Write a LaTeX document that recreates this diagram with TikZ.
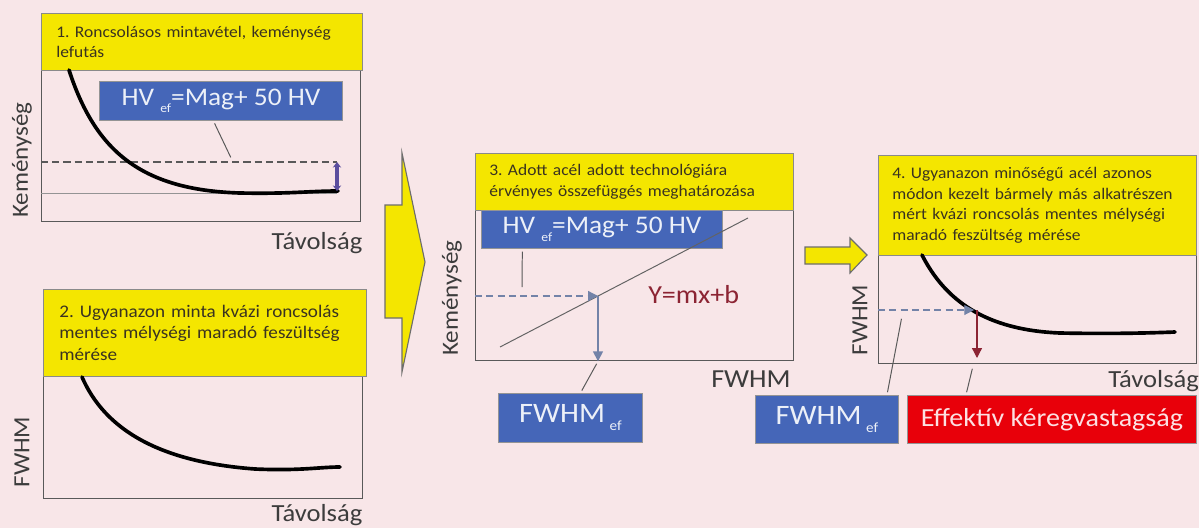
\documentclass[tikz,border=0pt]{standalone}
\usepackage{fontspec}
\setmainfont{Carlito}[FakeStretch=1.08]
\usetikzlibrary{arrows.meta,positioning}
\definecolor{slidebg}{HTML}{F8E6E8}
\definecolor{slideyellow}{HTML}{F4E600}
\definecolor{slideblue}{HTML}{4566B8}
\definecolor{slidered}{HTML}{E8000A}
\definecolor{slideink}{HTML}{3C3C3C}
\definecolor{slidetext}{HTML}{3A3320}
\definecolor{slidewine}{HTML}{8C2433}
\definecolor{slidesteel}{HTML}{7383A8}
\definecolor{slideviolet}{HTML}{5B4E9E}
\frenchspacing

\tikzset{
  panel/.style={draw=slideink!85, line width=.9pt, fill=slidebg,
    anchor=north west, inner sep=0pt},
  headbox/.style={fill=slideyellow, draw=slideink!60, line width=.5pt,
    anchor=north west, inner xsep=.35cm, inner ysep=0pt, align=left,
    text=slidetext, font=\fontsize{11.5}{14.6}\selectfont},
  bluebox/.style={fill=slideblue, draw=slideink!55, line width=.6pt,
    text=white!90!slideblue, inner sep=0pt, anchor=north west},
  axislabel/.style={text=slideink, inner sep=0pt,
    font=\fontsize{16.5}{18}\selectfont},
  distlabel/.style={axislabel, font=\fontsize{17.5}{19}\selectfont},
  decay/.style={line width=2.6pt, line cap=round, black},
  pointer/.style={draw=slideink!85, line width=.7pt,
    shorten <=2pt, shorten >=2pt},
  blockarrow/.style={fill=slideyellow, draw=slideink!75, line width=.8pt,
    line join=miter},
}
\newcommand{\efsub}[1]{\raisebox{-.6ex}{\fontsize{#1}{#1}\selectfont ef}}

\begin{document}
\begin{tikzpicture}[x=0.025cm,y=-0.025cm]
  \useasboundingbox (0,0) rectangle (1199,528);
  \fill[slidebg] (0,0) rectangle (1199,528);

  % 1. panel
  \node[panel, minimum width=7.975cm, minimum height=5.2cm] (frame1) at (41,13) {};
  \node[headbox, text width=7.275cm, minimum height=1.425cm,
    inner xsep=.375cm] (head1) at (41,13)
    {1. Roncsolásos mintavétel, keménység\\lefutás};
  \draw[slideink!55, line width=.7pt] (41,193) -- (337,193);
  \draw[slideink!85, dashed, line width=.8pt, dash pattern=on 5pt off 3pt]
    (41,162) -- (337,162);
  \draw[decay] (69,70) .. controls (95,150) and (140,190) .. (240,193)
    .. controls (290,194) and (310,191) .. (338,191);
  \draw[slideviolet, line width=2.4pt, {Stealth[length=4pt,width=6pt]}-{Stealth[length=4pt,width=6pt]}]
    (337,162) -- (337,191);
  \node[bluebox, minimum width=6.075cm, minimum height=.975cm,
    font=\fontsize{18}{20}\selectfont] (hv1) at (99,81) {HV \efsub{9}=Mag+ 50 HV};
  \draw[pointer] ([xshift=-.19cm]hv1.south) -- (232,160);
  \node[axislabel, rotate=90] (ylab1) at (22,160) {Keménység};
  \node[distlabel] (xlab1) at (317,243) {Távolság};

  % 2. panel
  \node[panel, minimum width=7.975cm, minimum height=5.225cm] (frame2) at (43,289) {};
  \node[headbox, text width=7.275cm, minimum height=2.175cm, inner xsep=.4cm,
    font=\fontsize{12.6}{15.4}\selectfont] (head2) at (43,289)
    {2. Ugyanazon minta kvázi roncsolás\\mentes mélységi maradó feszültség\\mérése};
  \draw[decay] (82,377) .. controls (105,430) and (160,462) .. (255,469)
    .. controls (300,471) and (320,467) .. (340,467);
  \node[axislabel, rotate=90] (ylab2) at (22,452) {FWHM};
  \node[distlabel] (xlab2) at (317,515) {Távolság};

  % big arrow between columns
  \filldraw[blockarrow] (385,205) -- (402,205) -- (402,153) -- (425,262)
    -- (402,372) -- (402,318) -- (385,318) -- cycle;

  % 3. panel
  \node[panel, minimum width=7.95cm, minimum height=5.175cm] (frame3) at (475,153) {};
  \node[headbox, text width=7.25cm, minimum height=1.425cm] (head3) at (475,153)
    {3. Adott acél adott technológiára\\érvényes összefüggés meghatározása};
  \node[bluebox, minimum width=6.025cm, minimum height=.95cm,
    font=\fontsize{18}{20}\selectfont] (hv3) at (481,210) {HV \efsub{9}=Mag+ 50 HV};
  \coordinate (fitlo) at (500,347);
  \coordinate (fithi) at (748,218);
  \coordinate (cut3) at (598,296);
  \draw[slideink!80, line width=.7pt] (fitlo) -- (fithi);
  \draw[slidesteel, dashed, line width=.9pt, dash pattern=on 5pt off 3pt,
    -{Triangle[length=7pt,width=7pt]}] (frame3.west |- cut3) -- (cut3);
  \draw[slidesteel, line width=.9pt, -{Triangle[length=7pt,width=7pt]}]
    (cut3) -- (frame3.south -| cut3);
  \draw[pointer] ([xshift=-1.99cm]hv3.south) -- (522,290);
  \node[text=slidewine, inner sep=0pt, font=\fontsize{18.5}{20}\selectfont,
    anchor=west] (fitlabel) at (648,295) {Y=mx+b};
  \node[axislabel, rotate=90] (ylab3) at (452,298) {Keménység};
  \node[distlabel, font=\fontsize{18.5}{20}\selectfont] (xlab3) at (751,379) {FWHM};
  \node[bluebox, minimum width=3.6cm, minimum height=1.225cm,
    font=\fontsize{20}{22}\selectfont] (fwhm3) at (498,393) {FWHM\,\efsub{10}};
  \draw[pointer] ([xshift=.25cm]fwhm3.north) -- (frame3.south -| cut3);

  % small arrow
  \filldraw[blockarrow] (805,247) -- (850,247) -- (850,238) -- (867,255)
    -- (850,273) -- (850,264) -- (805,264) -- cycle;

  % 4. panel
  \node[panel, minimum width=7.95cm, minimum height=5.2cm] (frame4) at (878,155) {};
  \node[headbox, text width=7.25cm, minimum height=2.5cm] (head4) at (878,155)
    {4. Ugyanazon minőségű acél azonos\\módon kezelt bármely más alkatrészen\\mért kvázi roncsolás mentes mélységi\\maradó feszültség mérése};
  \draw[decay] (922,255) .. controls (945,300) and (985,330) .. (1060,333)
    .. controls (1110,334) and (1150,333) .. (1175,332);
  \coordinate (cut4) at (977,310);
  \draw[slidesteel, dashed, line width=.9pt, dash pattern=on 5pt off 3pt,
    -{Triangle[length=7pt,width=7pt]}, shorten >=2pt] (frame4.west |- cut4) -- (cut4);
  \draw[slidewine, line width=.9pt, -{Triangle[length=7pt,width=7pt]}]
    (cut4) -- (977,358);
  \node[axislabel, rotate=90] (ylab4) at (860,320) {FWHM};
  \node[distlabel, anchor=west] (xlab4) at (1108,381) {Távolság};
  \node[bluebox, minimum width=3.575cm, minimum height=1.2cm,
    font=\fontsize{20}{22}\selectfont] (fwhm4) at (755,395) {FWHM\,\efsub{10}};
  \node[bluebox, fill=slidered, text=white!88!slidered,
    minimum width=7.225cm, minimum height=1.2cm,
    font=\fontsize{18.5}{20}\selectfont] (eff4) at (907,395) {Effektív kéregvastagság};
  \draw[pointer] ([xshift=1.5cm]fwhm4.north) -- (902,316);
  \draw[pointer] ([xshift=-2.15cm]eff4.north) -- (973,366);
\end{tikzpicture}
\end{document}
